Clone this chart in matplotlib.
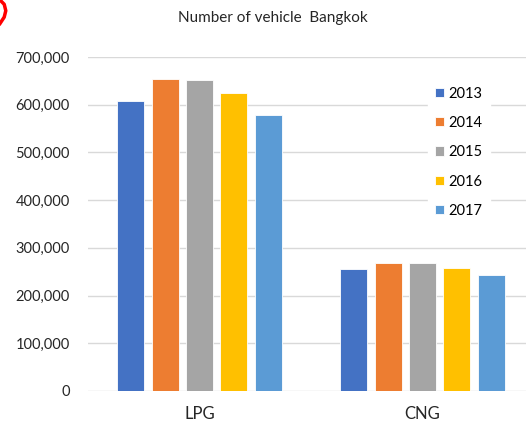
import matplotlib.pyplot as plt
from matplotlib.lines import Line2D
import numpy as np

plt.rcParams['font.family'] = ['Lato', 'DejaVu Sans']

categories = ['LPG', 'CNG']
years = ['2013', '2014', '2015', '2016', '2017']
values = {
    '2013': [608000, 255500],
    '2014': [654000, 268000],
    '2015': [651500, 268000],
    '2016': [624500, 258000],
    '2017': [578500, 243000],
}
colors = ['#4472C4', '#ED7D31', '#A5A5A5', '#FFC000', '#5B9BD5']

fig = plt.figure(figsize=(5.26, 4.28), dpi=100)
ax = fig.add_axes([88 / 526, 37 / 428, 446 / 526, 334 / 428])

x = np.arange(len(categories))
step = 0.154
width = 0.122
for i, yr in enumerate(years):
    ax.bar(x + (i - 2) * step, values[yr], width, color=colors[i],
           edgecolor='white', linewidth=0.6, label=yr, zorder=3)

ax.set_xlim(-0.5, 1.5)
ax.set_ylim(0, 700000)
ax.set_yticks(range(0, 700001, 100000))
ax.set_yticklabels([f'{v:,}' for v in range(0, 700001, 100000)], fontsize=10.5)
ax.set_xticks(x)
ax.set_xticklabels(categories, fontsize=12)
ax.tick_params(axis='both', length=0, colors='#262626')
ax.tick_params(axis='y', pad=13)
ax.tick_params(axis='x', pad=11)
ax.grid(axis='y', color='#D9D9D9', linewidth=1, zorder=0)
for s in ax.spines.values():
    s.set_visible(False)

fig.text(273 / 526, 1 - 18 / 428, 'Number of vehicle  Bangkok', ha='center',
         va='center', fontsize=11, color='#262626')

leg = ax.legend(loc='upper left', bbox_to_anchor=(0.745, 0.955), frameon=True,
                fontsize=10.5, handlelength=0.6, handleheight=0.6,
                handletextpad=0.35, labelspacing=1.05, borderpad=0.5)
leg.get_frame().set_facecolor('white')
leg.get_frame().set_edgecolor('white')
leg.get_frame().set_alpha(1)
leg.set_zorder(5)

fig.add_artist(Line2D([0.0, 0.008, 0.011, 0.008, 0.0], [1.0, 0.99, 0.975, 0.96, 0.945],
                      color='red', linewidth=2.5, transform=fig.transFigure))

fig.savefig('out.png', dpi=100)
